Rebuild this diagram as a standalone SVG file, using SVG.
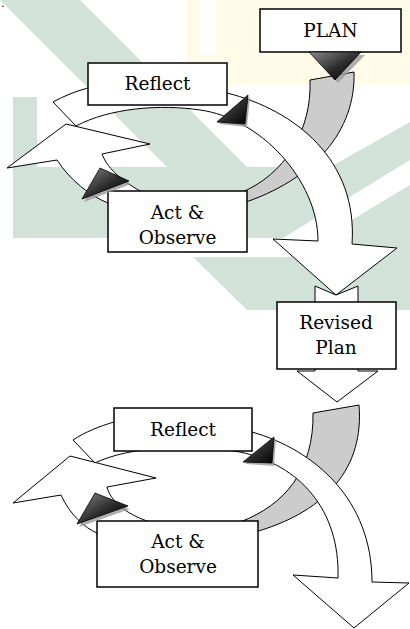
<svg xmlns="http://www.w3.org/2000/svg" width="410" height="629" viewBox="0 0 410 629">
  <style>
    .box { fill: #ffffff; stroke: #000000; stroke-width: 1.5; }
    .lbl { font-family: "DejaVu Serif", "Liberation Serif", serif; font-size: 18.5px; fill: #000000; text-anchor: middle; }
    .band { fill: #ffffff; stroke: #000000; stroke-width: 1; stroke-linejoin: miter; }
    .grey { fill: #cccccc; stroke: #000000; stroke-width: 1; }
    .tri { fill: url(#triFill); stroke: #000000; stroke-width: 0.8; }
    .triShadow { fill: #9a9a9a; opacity: 0.8; }
    .wm-g { fill: #d2e2d8; }
    .wm-y { fill: #fffbe8; }
  </style>
  <defs>
    <linearGradient id="triFill" x1="0" y1="0" x2="1" y2="1">
      <stop offset="0" stop-color="#8a8a8a"/>
      <stop offset="0.55" stop-color="#2a2a2a"/>
      <stop offset="1" stop-color="#000000"/>
    </linearGradient>
  </defs>
  <rect width="410" height="629" fill="#ffffff"/>

  <!-- faint background emblem -->
  <g id="emblem">
    <rect class="wm-y" x="186" y="0" width="224" height="85"/>
    <rect fill="#ffffff" x="200" y="0" width="16" height="55"/>
    <polygon class="wm-g" points="0,0 80,0 247,167 167,167"/>
    <rect class="wm-g" x="13" y="97" width="24" height="141"/>
    <polygon class="wm-g" points="13,167 330,167 410,122 410,160 283,238 13,238"/>
    <polygon class="wm-g" points="193,257 290,257 410,185 410,310 247,310"/>
  </g>

  <text x="1.5" y="7" font-family="DejaVu Sans, sans-serif" font-weight="bold" font-size="7" fill="#000000">.</text>

  <!-- connectors: curved cycle arrows -->
  <g id="connectors">
    <!-- first cycle -->
    <path class="grey" d="M310,80 L354,72 C356,130 315,180 240,204 L240,193 C285,175 312,130 310,80 Z"/>
    <path class="band" d="M53,102 C64,96 76,91 88,88 Q157,68 227,93 C295,110 358,160 352,244 L397,248 L336,295 L273,239 L318,241 C318,180 260,118 200,110 C160,104 110,108 76,126 Z"/>
    <path class="band" d="M7,168 L66,124 L150,144 L102,154 C108,170 125,184 150,196 L150,230 L112,230 L108,203 C90,196 70,180 57,160 Z"/>
    <!-- block arrow through the revised plan -->
    <path class="band" d="M315,286 L336,295 L358,286 L358,371 L378,371 L337,402 L297,371 L315,371 Z"/>
    <!-- second cycle -->
    <path class="grey" d="M313,413 L359,405 C364,465 330,515 240,536 L240,522 C285,505 314,470 313,413 Z"/>
    <path class="band" d="M73,440 C85,432 100,426 114,422 Q183,400 252,432 C315,450 372,500 372,582 L409,583 L354,628 L293,575 L338,578 C340,510 300,465 240,452 C190,444 130,446 95,463 Z"/>
    <path class="band" d="M13,503 L70,456 L156,478 L107,487 C110,500 125,514 150,522 L150,560 L100,560 L97,533 C85,528 70,515 61,495 Z"/>
  </g>

  <g id="plan">
    <rect class="box" x="260" y="9" width="141" height="43"/>
    <text class="lbl" x="330.5" y="37">PLAN</text>
  </g>
  <g id="reflect-1">
    <rect class="box" x="88" y="63" width="139" height="42"/>
    <text class="lbl" x="157.5" y="90">Reflect</text>
  </g>
  <g id="act-observe-1">
    <rect class="box" x="108" y="191" width="139" height="61"/>
    <text class="lbl" x="177.5" y="219">Act &amp;</text>
    <text class="lbl" x="177.5" y="244">Observe</text>
  </g>
  <g id="revised-plan">
    <rect class="box" x="277" y="302" width="119" height="67"/>
    <text class="lbl" x="336" y="329">Revised</text>
    <text class="lbl" x="336" y="354">Plan</text>
  </g>
  <g id="reflect-2">
    <rect class="box" x="114" y="408" width="138" height="43"/>
    <text class="lbl" x="183" y="436">Reflect</text>
  </g>
  <g id="act-observe-2">
    <rect class="box" x="97" y="521" width="161" height="66"/>
    <text class="lbl" x="178" y="548">Act &amp;</text>
    <text class="lbl" x="178" y="573">Observe</text>
  </g>

  <!-- dark direction heads -->
  <g id="heads">
    <polygon class="triShadow" points="312,55 365,55 338,83"/>
    <polygon class="tri" points="309,52 361,52 335,80"/>
    <polygon class="triShadow" points="219,124 250,97 247,127"/>
    <polygon class="tri" points="217,122 248,95 245,124"/>
    <polygon class="triShadow" points="84,202 102,170 131,184"/>
    <polygon class="tri" points="82,199 100,168 129,181"/>
    <polygon class="triShadow" points="245,464 276,439 274,466"/>
    <polygon class="tri" points="243,462 274,437 272,463"/>
    <polygon class="triShadow" points="79,527 97,496 130,509"/>
    <polygon class="tri" points="77,524 95,493 128,506"/>
  </g>
</svg>
